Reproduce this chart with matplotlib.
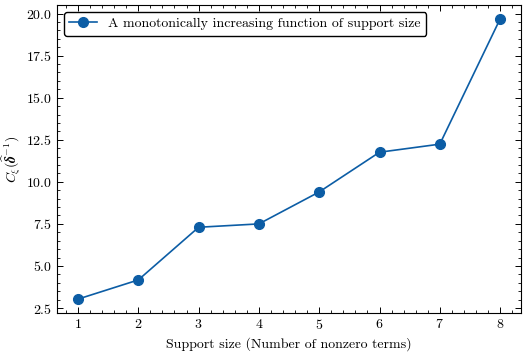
import matplotlib
matplotlib.use('Agg')
import matplotlib.pyplot as plt

# support size vs. constant
support_size = [1, 2, 3, 4, 5, 6, 7, 8]
c_xi = [3.03, 4.17, 7.30, 7.50, 9.40, 11.76, 12.24, 19.68]

plt.rcParams.update({
    'font.family': 'serif',
    'font.serif': ['cmr10'],
    'mathtext.fontset': 'cm',
    'axes.formatter.use_mathtext': True,
    'font.size': 10,
    'axes.linewidth': 0.8,
    'xtick.direction': 'in',
    'ytick.direction': 'in',
    'xtick.top': True,
    'ytick.right': True,
    'xtick.minor.visible': True,
    'ytick.minor.visible': True,
    'xtick.major.size': 4,
    'ytick.major.size': 4,
    'xtick.minor.size': 2,
    'ytick.minor.size': 2,
    'xtick.major.width': 0.7,
    'ytick.major.width': 0.7,
    'xtick.minor.width': 0.6,
    'ytick.minor.width': 0.6,
})

fig, ax = plt.subplots(figsize=(5.27, 3.55), dpi=100)

ax.plot(support_size, c_xi, color='#0C5DA5', marker='o', markersize=7,
        linewidth=1.2, label='A monotonically increasing function of support size')

ax.set_xlabel('Support size (Number of nonzero terms)')
ax.set_ylabel(r'$C_{\xi}(\widehat{\boldsymbol{\delta}}^{-1})$', labelpad=2)

ax.legend(loc='upper left', frameon=True, fancybox=True, edgecolor='black',
          framealpha=1)

fig.subplots_adjust(left=0.108, right=0.989, top=0.986, bottom=0.118)
fig.savefig('out.png', dpi=100)
